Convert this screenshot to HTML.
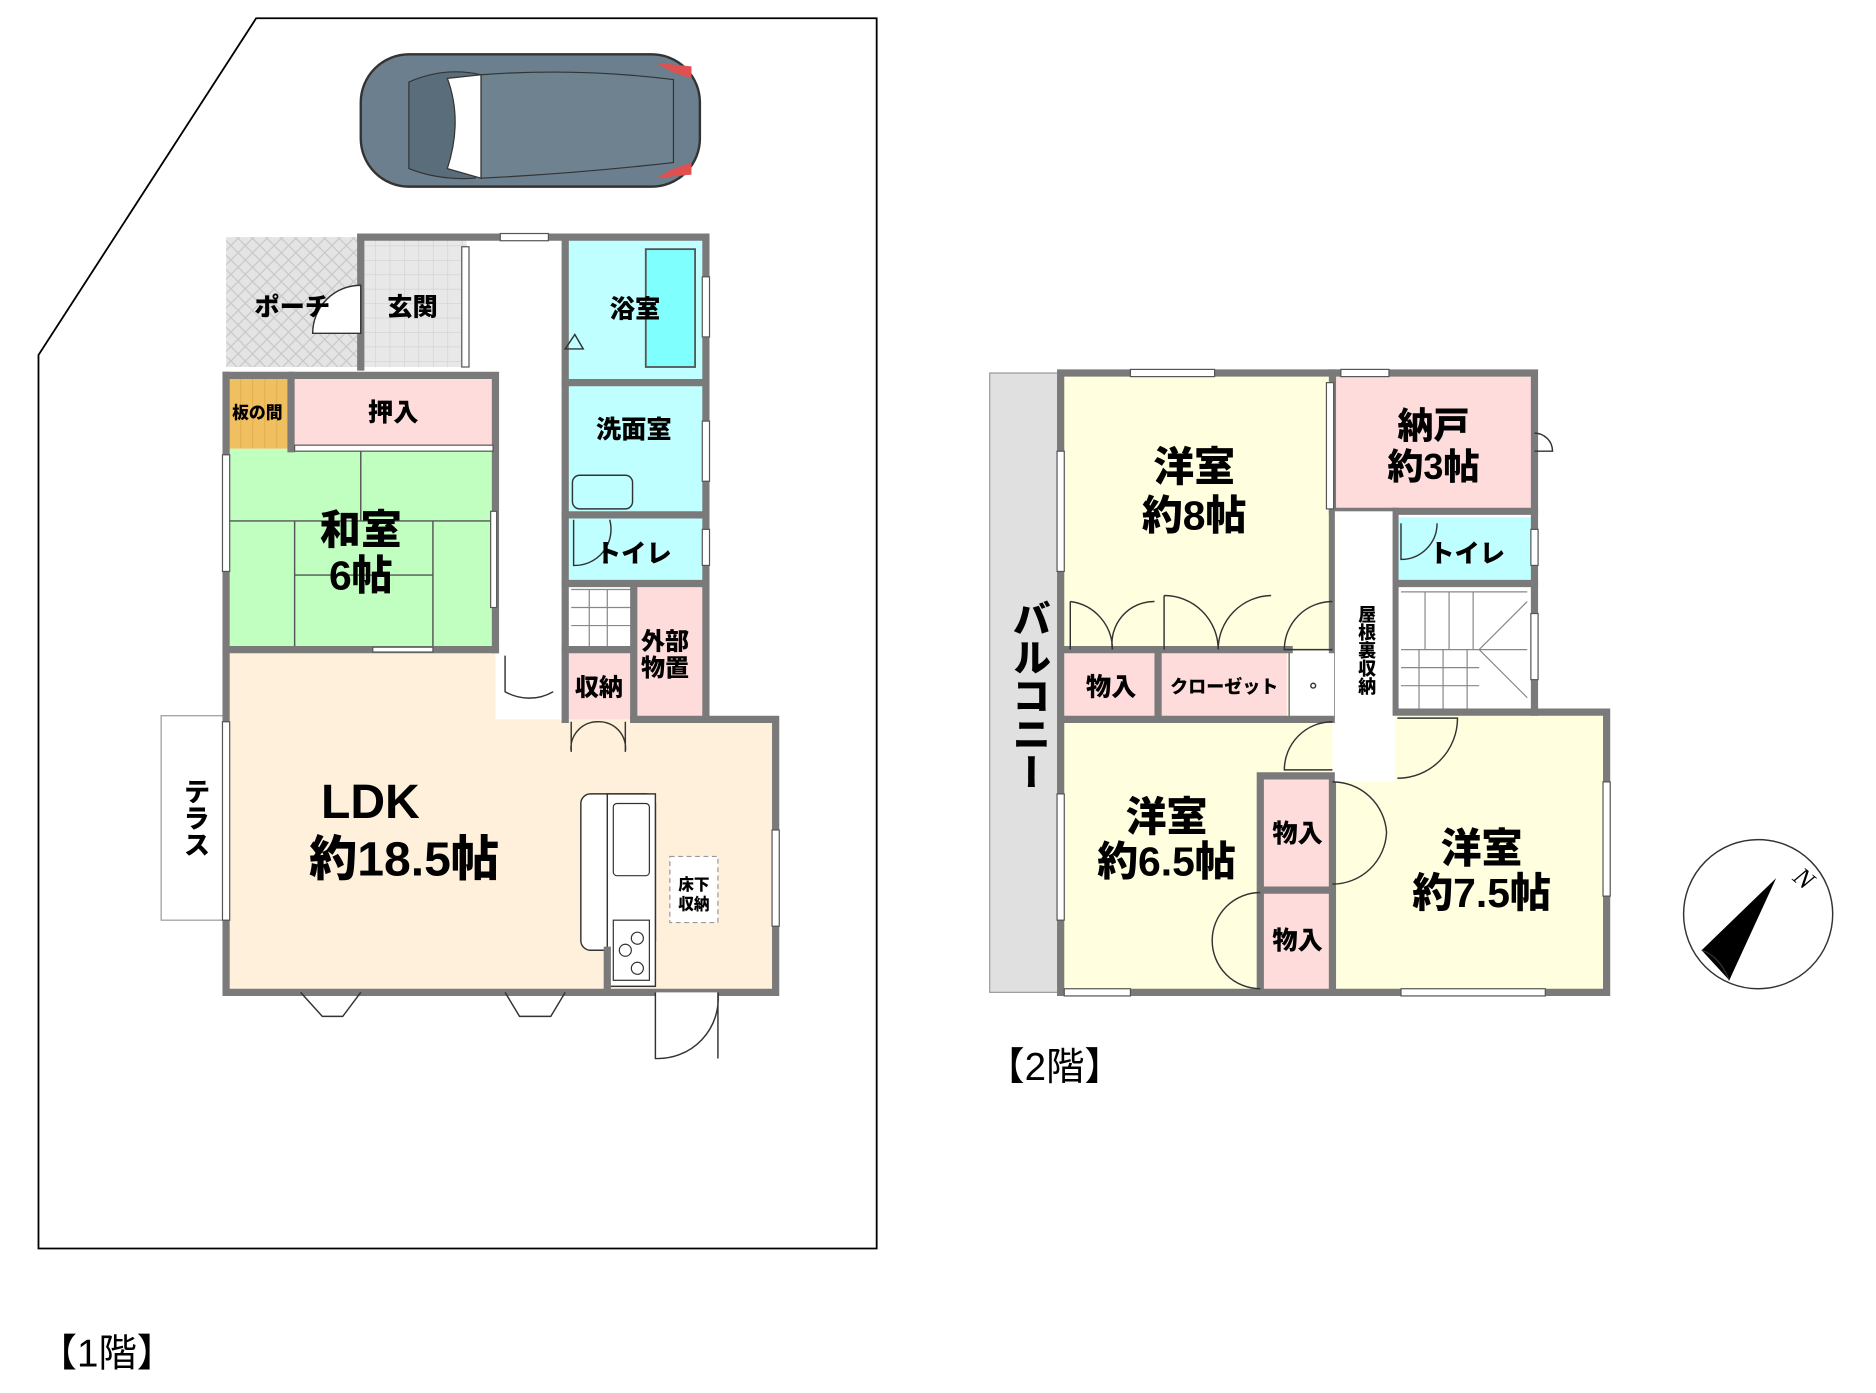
<!DOCTYPE html>
<html><head><meta charset="utf-8"><style>
html,body{margin:0;padding:0;background:#fff;}
svg{display:block;}
text{font-family:"Liberation Sans","Noto Sans CJK JP",sans-serif;font-weight:900;fill:#000;}
</style></head><body>
<svg width="1876" height="1393" viewBox="0 0 1560 1158" xmlns="http://www.w3.org/2000/svg">
<defs>
<pattern id="hatch" width="12" height="12" patternUnits="userSpaceOnUse">
<rect width="12" height="12" fill="#e4e4e4"/><path d="M0 0L12 12M12 0L0 12" stroke="#c8c8c8" stroke-width="1"/>
</pattern>
<pattern id="tile" width="12" height="12" patternUnits="userSpaceOnUse">
<rect width="12" height="12" fill="#e8e8e8"/><path d="M0 0H12M0 0V12" stroke="#d0d0d0" stroke-width="1"/>
</pattern>
<pattern id="wood" width="10" height="10" patternUnits="userSpaceOnUse">
<rect width="10" height="10" fill="#f0c060"/><path d="M0 0V10" stroke="#d8a040" stroke-width="1"/>
</pattern>
</defs>
<!-- lot -->
<polygon points="213,15 729,15 729,1038 32,1038 32,295" fill="none" stroke="#000" stroke-width="1.5"/>
<!-- car -->
<g>
<rect x="300" y="45" width="282" height="110" rx="40" fill="#6b7f8e" stroke="#333" stroke-width="2"/>
<path d="M340 68 Q370 55 400 62 L395 148 Q365 150 340 140 Z" fill="#5a6d7b" stroke="#333"/>
<path d="M372 65 L400 62 L400 148 L372 140 Q385 100 372 65Z" fill="#fff" stroke="#333"/>
<path d="M400 62 Q480 56 560 66 L560 135 Q480 144 400 148Z" fill="#6e8290" stroke="#333"/>
<path d="M545 52 L575 55 L575 65 L560 60Z" fill="#e05050"/>
<path d="M545 148 L575 145 L575 135 L560 140Z" fill="#e05050"/>
</g>
<!-- 1F fills -->
<rect x="188" y="197" width="112" height="108" fill="url(#hatch)"/>
<rect x="300" y="197" width="88" height="108" fill="url(#tile)"/>
<rect x="470" y="197" width="117" height="121" fill="#c0ffff"/>
<rect x="537" y="207" width="41" height="98" fill="#80ffff" stroke="#555" stroke-width="1.5"/>
<rect x="470" y="318" width="117" height="110" fill="#c0ffff"/>
<rect x="470" y="428" width="117" height="57" fill="#c0ffff"/>
<rect x="527" y="485" width="60" height="113" fill="#ffdcdc"/>
<rect x="470" y="540" width="57" height="58" fill="#ffdcdc"/>
<rect x="188" y="312" width="54" height="61" fill="url(#wood)"/>
<rect x="242" y="312" width="170" height="61" fill="#ffdcdc"/>
<rect x="188" y="373" width="224" height="167" fill="#c0ffc0"/>
<path d="M300 373V433M188 433H412M245 433V540M360 433V540M245 478H360" stroke="#555" stroke-width="1.2" fill="none"/>
<polygon points="188,540 412,540 412,598 470,598 645,598 645,825 188,825" fill="#fff0dc"/>
<rect x="134" y="595" width="54" height="170" fill="#fff" stroke="#999" stroke-width="1"/>
<!-- kitchen -->
<rect x="483" y="660" width="62" height="130" rx="8" fill="#fff" stroke="#333" stroke-width="1.2"/>
<rect x="505" y="660" width="40" height="160" fill="#fff" stroke="#333" stroke-width="1.2"/>
<rect x="510" y="668" width="30" height="60" rx="3" fill="#fff" stroke="#333"/>
<rect x="510" y="765" width="30" height="50" fill="#fff" stroke="#333"/>
<circle cx="520" cy="790" r="5" fill="none" stroke="#333"/><circle cx="530" cy="780" r="5" fill="none" stroke="#333"/><circle cx="530" cy="805" r="5" fill="none" stroke="#333"/>
<rect x="557" y="712" width="40" height="55" fill="#fff" stroke="#999" stroke-dasharray="4 3"/>
<!-- stairs 1F -->
<path d="M475 490H527M475 505H527M475 520H527M490 490V540M505 490V540" stroke="#888" stroke-width="1" fill="none"/>
<!-- 1F walls -->
<g stroke="#7a7a7a" stroke-width="6" fill="none" stroke-linecap="square">
<path d="M300 197H587V598"/>
<path d="M300 197V305"/>
<path d="M188 312H412V540"/>
<path d="M188 312V825H645V598H527"/>
<path d="M188 540H412"/>
<path d="M470 197V598"/>
<path d="M470 318H587M470 428H587M470 485H587M527 485V598M470 540H527"/>
<path d="M242 312V373"/>
<path d="M505 790V825"/>
</g>
<!-- windows & doors 1F -->
<g fill="#fff" stroke="#555" stroke-width="1">
<rect x="416" y="194" width="40" height="6"/>
<rect x="384" y="205" width="6" height="100"/>
<rect x="185" y="378" width="6" height="97"/>
<rect x="185" y="600" width="6" height="165"/>
<rect x="642" y="690" width="6" height="80"/>
<rect x="584" y="230" width="6" height="50"/>
<rect x="584" y="350" width="6" height="50"/>
<rect x="584" y="440" width="6" height="30"/>
<rect x="245" y="370" width="165" height="5"/>
<rect x="408" y="425" width="5" height="80"/>
<rect x="310" y="538" width="50" height="4"/>
</g>
<g fill="none" stroke="#333" stroke-width="1.2">
<path d="M300 237A40 40 0 0 0 260 277H300Z" fill="#fff"/>
<path d="M470 290L485 290L478 278Z"/>
<path d="M420 545V575A40 40 0 0 0 460 575" />
<path d="M475 600V625M520 600V625M475 625A22 22 0 0 1 497 600M520 625A22 22 0 0 0 497 600"/>
<path d="M545 825V880A50 50 0 0 0 597 825M597 825V880" fill="#fff"/>
<path d="M250 825L268 845H285L300 825M420 825L432 845H458L470 825"/>
<path d="M477 432V470A30 30 0 0 0 507 432"/>
<rect x="476" y="395" width="50" height="28" rx="6"/>
</g>
<!-- 1F labels -->
<text x="243" y="262" font-size="21" text-anchor="middle">ポーチ</text>
<text x="343" y="262" font-size="21" text-anchor="middle">玄関</text>
<text x="528" y="264" font-size="21" text-anchor="middle">浴室</text>
<text x="527" y="364" font-size="21" text-anchor="middle">洗面室</text>
<text x="527" y="467" font-size="21" text-anchor="middle">トイレ</text>
<text x="214" y="348" font-size="14" text-anchor="middle">板の間</text>
<text x="327" y="350" font-size="21" text-anchor="middle">押入</text>
<text x="300" y="452" font-size="34" text-anchor="middle">和室</text>
<text x="300" y="490" font-size="34" text-anchor="middle">6帖</text>
<text x="553" y="540" font-size="20" text-anchor="middle">外部</text>
<text x="553" y="562" font-size="20" text-anchor="middle">物置</text>
<text x="498" y="578" font-size="20" text-anchor="middle">収納</text>
<text x="308" y="680" font-size="40" text-anchor="middle">LDK</text>
<text x="336" y="728" font-size="40" text-anchor="middle">約18.5帖</text>
<text x="577" y="740" font-size="13" text-anchor="middle">床下</text>
<text x="577" y="756" font-size="13" text-anchor="middle">収納</text>
<text x="160" y="680" font-size="22" text-anchor="middle" writing-mode="tb" style="writing-mode:vertical-rl" dominant-baseline="middle">テラス</text>
<text x="32" y="1136" font-size="32" font-weight="400" style="font-weight:400">【1階】</text>
<!-- 2F fills -->
<rect x="823" y="310" width="59" height="515" fill="#e0e0e0" stroke="#999" stroke-width="1"/>
<rect x="882" y="310" width="226" height="288" fill="#ffffe0"/>
<rect x="1108" y="310" width="168" height="115" fill="#ffdcdc"/>
<rect x="1160" y="430" width="116" height="55" fill="#c0ffff"/>
<rect x="885" y="540" width="78" height="58" fill="#ffdcdc"/>
<rect x="963" y="540" width="107" height="58" fill="#ffdcdc"/>
<rect x="1072" y="540" width="38" height="58" fill="#fff" stroke="#555"/>
<polygon points="882,598 1108,598 1108,645 1048,645 1048,825 882,825" fill="#ffffe0"/>
<rect x="1048" y="645" width="60" height="95" fill="#ffdcdc"/>
<rect x="1048" y="740" width="60" height="85" fill="#ffdcdc"/>
<polygon points="1160,592 1336,592 1336,825 1108,825 1108,650 1160,650" fill="#ffffe0"/>
<!-- stairs 2F -->
<path d="M1165 492H1270M1165 540H1270M1185 492V540M1205 492V540M1225 492V540M1165 555H1230M1165 570H1230M1180 540V592M1200 540V592M1220 540V592M1230 540L1270 500M1230 540L1270 580" stroke="#888" stroke-width="1" fill="none"/>
<!-- 2F walls -->
<g stroke="#7a7a7a" stroke-width="6" fill="none" stroke-linecap="square">
<path d="M882 310H1276V592H1336V825H882Z"/>
<path d="M1108 310V425M1108 425H1276"/>
<path d="M1108 425V540M1160 425V592M1160 592H1276"/>
<path d="M1160 485H1276"/>
<path d="M882 598H1110M963 540V598M885 540H1072"/>
<path d="M1048 645H1108V825M1048 645V825M1048 740H1108"/>
</g>
<g fill="#fff" stroke="#555" stroke-width="1">
<rect x="940" y="307" width="70" height="6"/>
<rect x="1115" y="307" width="40" height="6"/>
<rect x="1103" y="318" width="6" height="105"/>
<rect x="879" y="375" width="6" height="100"/>
<rect x="879" y="660" width="6" height="105"/>
<rect x="1333" y="650" width="6" height="95"/>
<rect x="885" y="822" width="55" height="6"/>
<rect x="1165" y="822" width="120" height="6"/>
<rect x="1273" y="440" width="6" height="30"/>
<rect x="1273" y="510" width="6" height="55"/>
<rect x="1110" y="425" width="48" height="225" stroke="none"/>
</g>
<g fill="none" stroke="#333" stroke-width="1.2">
<path d="M890 500V540M890 500A40 40 0 0 1 925 540M960 500A35 35 0 0 0 925 540"/>
<path d="M968 495V540M968 495A45 45 0 0 1 1013 540M1057 495A45 45 0 0 0 1013 540"/>
<path d="M1108 500A40 40 0 0 0 1068 540H1108"/>
<path d="M1108 600A40 40 0 0 0 1068 640H1108"/>
<path d="M1162 597H1212A50 50 0 0 1 1162 647"/>
<path d="M1108 650A45 45 0 0 1 1153 692M1108 735A45 45 0 0 0 1153 692"/>
<path d="M1048 742A40 40 0 0 0 1008 782M1048 822A40 40 0 0 1 1008 782"/>
<path d="M1165 435V465A30 30 0 0 0 1195 435"/>
<path d="M1276 360A15 15 0 0 1 1291 375H1276"/>
<circle cx="1092" cy="570" r="2"/>
</g>
<!-- 2F labels -->
<text x="993" y="400" font-size="34" text-anchor="middle">洋室</text>
<text x="993" y="440" font-size="34" text-anchor="middle">約8帖</text>
<text x="1192" y="364" font-size="30" text-anchor="middle">納戸</text>
<text x="1192" y="398" font-size="30" text-anchor="middle">約3帖</text>
<text x="1220" y="467" font-size="21" text-anchor="middle">トイレ</text>
<text x="1136" y="503" font-size="15" style="writing-mode:vertical-rl" text-anchor="start">屋根裏収納</text>
<text x="924" y="578" font-size="21" text-anchor="middle">物入</text>
<text x="1018" y="576" font-size="15" text-anchor="middle">クローゼット</text>
<text x="970" y="691" font-size="34" text-anchor="middle">洋室</text>
<text x="970" y="728" font-size="34" text-anchor="middle">約6.5帖</text>
<text x="1079" y="700" font-size="21" text-anchor="middle">物入</text>
<text x="1079" y="789" font-size="21" text-anchor="middle">物入</text>
<text x="1232" y="717" font-size="34" text-anchor="middle">洋室</text>
<text x="1232" y="754" font-size="34" text-anchor="middle">約7.5帖</text>
<text x="855" y="498" font-size="32" style="writing-mode:vertical-rl" text-anchor="start">バルコニー</text>
<text x="820" y="898" font-size="32" style="font-weight:400">【2階】</text>
<!-- compass -->
<circle cx="1462" cy="760" r="62" fill="#fff" stroke="#333" stroke-width="1.2"/>
<polygon points="1477,730 1415,790 1438,815" fill="#000"/>
<path d="M1415 790Q1430 795 1438 815" fill="none" stroke="#333"/>
<text x="1495" y="733" font-size="22" font-style="italic" style="font-weight:400;font-family:'Liberation Serif',serif" transform="rotate(40 1495 725)">N</text>
</svg>
</body></html>
